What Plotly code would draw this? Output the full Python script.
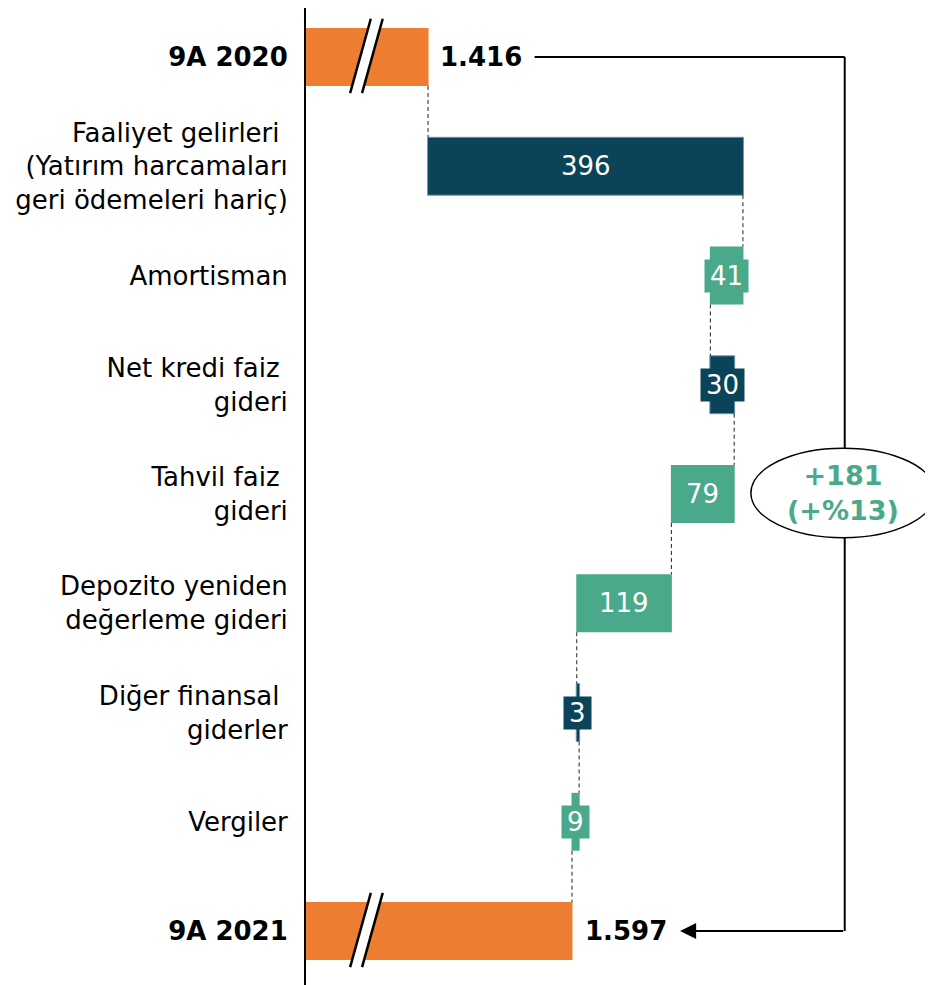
import plotly.graph_objects as go

# --- data ---
categories = [
    "<b>9A 2020</b>",
    "Faaliyet gelirleri <br>(Yatırım harcamaları<br>geri ödemeleri hariç)",
    "Amortisman",
    "Net kredi faiz <br>gideri",
    "Tahvil faiz <br>gideri",
    "Depozito yeniden<br>değerleme gideri",
    "Diğer finansal <br>giderler",
    "Vergiler",
    "<b>9A 2021</b>",
]
values = [1416, 396, -41, 30, -79, -119, 3, -9, 0]
measures = ["absolute", "relative", "relative", "relative", "relative",
            "relative", "relative", "relative", "total"]
change_text = "<b>+181<br>(+%13)</b>"

ORANGE = "#ED7D31"
DARK = "#0B4458"
GREEN = "#4AA98A"
FONT = "DejaVu Sans"
FS = 26

pos = list(range(len(categories)))


def tr(n):
    return f"{n:,}".replace(",", ".")


fig = go.Figure()
fig.add_trace(go.Waterfall(
    orientation="h", x=values, y=pos, measure=measures, width=0.53,
    increasing=dict(marker=dict(color=DARK, line=dict(width=1, color="#6f97a6"))),
    decreasing=dict(marker=dict(color=GREEN, line=dict(width=0))),
    totals=dict(marker=dict(color=ORANGE, line=dict(width=0))),
    connector=dict(mode="between", line=dict(color="#222", width=1, dash="4px,3px")),
    textinfo="none", hoverinfo="skip", showlegend=False,
))

# value labels
ann = []
running = 0
for i, (v, m) in enumerate(zip(values, measures)):
    if m == "absolute":
        running = v
        ann.append(dict(x=v, y=i, text="<b>" + tr(v) + "</b>", xanchor="left", xshift=10,
                        showarrow=False, font=dict(size=FS, color="black", family=FONT)))
    elif m == "total":
        ann.append(dict(x=running, y=i, text="<b>" + tr(running) + "</b>", xanchor="left", xshift=11,
                        showarrow=False, font=dict(size=FS, color="black", family=FONT)))
    else:
        col = DARK if v > 0 else GREEN
        lab = str(abs(v))
        ann.append(dict(x=running + v / 2, y=i, text=lab, showarrow=False,
                        bgcolor=col, borderpad=1, width=len(lab) * 16.5 + 8,
                        font=dict(size=FS, color="white", family=FONT)))
        running += v

shapes = []
# axis break marks on the total bars
for yc in (0, 8):
    shapes.append(dict(type="path", xref="x", yref="y", layer="above",
                       path=f"M 1318,{yc + 0.33} L 1344,{yc - 0.35} L 1359,{yc - 0.35} L 1333,{yc + 0.33} Z",
                       fillcolor="white", line=dict(width=0)))
    shapes.append(dict(type="line", xref="x", yref="y", layer="above",
                       x0=1318, y0=yc + 0.33, x1=1344, y1=yc - 0.35, line=dict(color="black", width=2.5)))
    shapes.append(dict(type="line", xref="x", yref="y", layer="above",
                       x0=1333, y0=yc + 0.33, x1=1359, y1=yc - 0.35, line=dict(color="black", width=2.5)))

# bracket
BX = 1940
shapes.append(dict(type="line", xref="x", yref="y", x0=1550, y0=0, x1=BX, y1=0,
                   line=dict(color="black", width=2)))
shapes.append(dict(type="line", xref="x", yref="y", x0=BX, y0=0, x1=BX, y1=8,
                   line=dict(color="black", width=2)))
shapes.append(dict(type="circle", xref="x", yref="y", x0=1822, y0=3.58, x1=2054, y1=4.40,
                   fillcolor="white", line=dict(color="black", width=1.5)))
ann.append(dict(x=1733, y=8, ax=BX, ay=8, axref="x", ayref="y", text="", showarrow=True,
                arrowhead=2, arrowsize=1.6, arrowwidth=2, arrowcolor="black"))
ann.append(dict(x=1938, y=3.99, text=change_text, showarrow=False,
                font=dict(size=27, color=GREEN, family=FONT)))

fig.update_layout(
    width=925, height=977,
    margin=dict(l=298, r=0, t=0, b=0),
    plot_bgcolor="white", paper_bgcolor="white",
    font=dict(family=FONT, size=FS, color="black"),
    xaxis=dict(range=[1262.5, 2051], visible=False),
    yaxis=dict(range=[8.494, -0.4485], tickvals=pos, ticktext=categories,
               showline=True, linecolor="black", linewidth=2, ticks="",
               ticklabelstandoff=11, showgrid=False, zeroline=False,
               tickfont=dict(size=FS, color="black", family=FONT)),
    annotations=ann, shapes=shapes,
)

fig.write_html("out.html")
